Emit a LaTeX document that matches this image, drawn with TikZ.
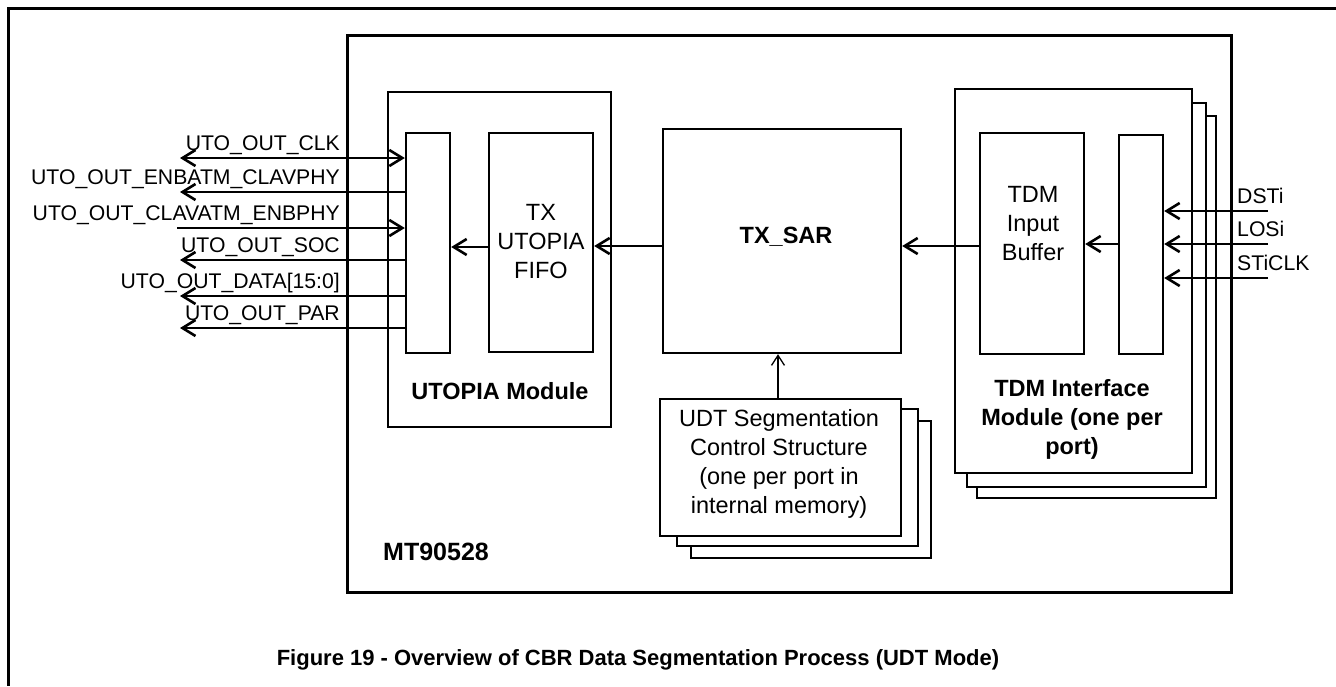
\documentclass[tikz,border=0pt]{standalone}
\usepackage{fontspec}
\setmainfont{Liberation Sans}
\usetikzlibrary{arrows.meta}
\begin{document}
\begin{tikzpicture}[x=1pt,y=-1pt,
  >={Straight Barb[length=13pt,width=16pt]},
  frame/.style={line width=3pt},
  box/.style={draw, line width=2.4pt, inner sep=0pt, fill=white},
  sig/.style={line width=2.6pt},
  thinarr/.style={line width=1.3pt, -{Straight Barb[length=10pt,width=13pt]}},
  lbl/.style={inner sep=0pt, font=\fontsize{21.2pt}{24pt}\selectfont},
  body/.style={inner sep=0pt, align=center, font=\fontsize{23.5pt}{29pt}\selectfont},
  bold/.style={inner sep=0pt, align=center, font=\fontsize{23.5pt}{29pt}\selectfont\bfseries}
]
\useasboundingbox (0,0) rectangle (1336,686);

% outer frame
\draw[frame] (1336,8) -- (8,8) -- (8,686);

% MT90528 chip
\node[box, line width=3pt, minimum width=884pt, minimum height=557pt] (mt) at (789,313.5) {};
\node[bold, anchor=west, font=\fontsize{25pt}{29pt}\selectfont\bfseries] (mtl) at (383,552) {MT90528};

% UTOPIA module
\node[box, minimum width=223pt, minimum height=335pt] (utopia) at (499.5,259.5) {};
\node[box, minimum width=44pt, minimum height=220pt] (uif) at (428,243) {};
\node[box, minimum width=104pt, minimum height=219pt] (fifo) at (541,242.5) {};
\node[body] (fifol) at (541,241.5) {TX\\UTOPIA\\FIFO};
\node[bold] (utopial) at (500,391) {UTOPIA Module};

% TX_SAR
\node[box, minimum width=238pt, minimum height=224pt] (sar) at (782,241) {};
\node[bold] (sarl) at (786,237) {TX\_SAR};

% TDM interface stack
\node[box, minimum width=239pt, minimum height=382pt] (tdm3) at (1096.5,307) {};
\node[box, minimum width=239pt, minimum height=384pt] (tdm2) at (1086.5,295) {};
\node[box, minimum width=237pt, minimum height=384pt] (tdm1) at (1073.5,281) {};
\node[box, minimum width=104pt, minimum height=221pt] (buf) at (1032,243.5) {};
\node[body] (bufl) at (1033,224) {TDM\\Input\\Buffer};
\node[box, minimum width=44pt, minimum height=219pt] (tif) at (1141,244.5) {};
\node[bold] (tdml) at (1072,419) {TDM Interface\\Module (one per\\port)};

% UDT stack
\node[box, minimum width=240pt, minimum height=137pt] (udt3) at (811,489.5) {};
\node[box, minimum width=241pt, minimum height=137pt] (udt2) at (797.5,477.5) {};
\node[box, minimum width=241pt, minimum height=137pt] (udt1) at (780.5,467.5) {};
\node[body] (udtl) at (779,464) {UDT Segmentation\\Control Structure\\(one per port in\\internal memory)};

% internal arrows
\coordinate (ya) at (0,247);
\coordinate (yb) at (0,246);
\coordinate (yc) at (0,244);
\draw[sig,->] (fifo.west |- ya) -- (uif.east |- ya);
\draw[sig,->] (sar.west |- yb) -- (fifo.east |- yb);
\draw[sig,->] (buf.west |- yb) -- (sar.east |- yb);
\draw[sig,->] (tif.west |- yc) -- (buf.east |- yc);
\draw[thinarr] (udt1.north -| 778,0) -- (sar.south -| 778,0);

% UTOPIA signals
\coordinate (clk) at (180,158);
\coordinate (enb) at (180,192);
\coordinate (clav) at (177,228);
\coordinate (soc) at (180,260);
\coordinate (data) at (180,296);
\coordinate (par) at (180,328);
\draw[sig,<->] (clk) -- (uif.west |- clk);
\draw[sig,<-] (enb) -- (uif.west |- enb);
\draw[sig,->] (clav) -- (uif.west |- clav);
\draw[sig,<-] (soc) -- (uif.west |- soc);
\draw[sig,<-] (data) -- (uif.west |- data);
\draw[sig,<-] (par) -- (uif.west |- par);
\node[lbl, anchor=base east] (clkl) at (340,150) {UTO\_OUT\_CLK};
\node[lbl, anchor=base east] (enbl) at (340,184) {UTO\_OUT\_ENBATM\_CLAVPHY};
\node[lbl, anchor=base east] (clavl) at (340,220) {UTO\_OUT\_CLAVATM\_ENBPHY};
\node[lbl, anchor=base east] (socl) at (340,252) {UTO\_OUT\_SOC};
\node[lbl, anchor=base east] (datal) at (340,288) {UTO\_OUT\_DATA[15:0]};
\node[lbl, anchor=base east] (parl) at (340,320) {UTO\_OUT\_PAR};

% TDM signals
\coordinate (dsti) at (1268,211);
\coordinate (losi) at (1268,244);
\coordinate (sticlk) at (1268,278);
\draw[sig,->] (dsti) -- (tif.east |- dsti);
\draw[sig,->] (losi) -- (tif.east |- losi);
\draw[sig,->] (sticlk) -- (tif.east |- sticlk);
\node[lbl, anchor=base west] (dstil) at (1237,203) {DSTi};
\node[lbl, anchor=base west] (losil) at (1237,236) {LOSi};
\node[lbl, anchor=base west] (sticlkl) at (1237,270) {STiCLK};

% caption
\node[bold, font=\fontsize{22pt}{26pt}\selectfont\bfseries] (cap) at (638,660) {Figure 19 - Overview of CBR Data Segmentation Process (UDT Mode)};
\end{tikzpicture}
\end{document}
